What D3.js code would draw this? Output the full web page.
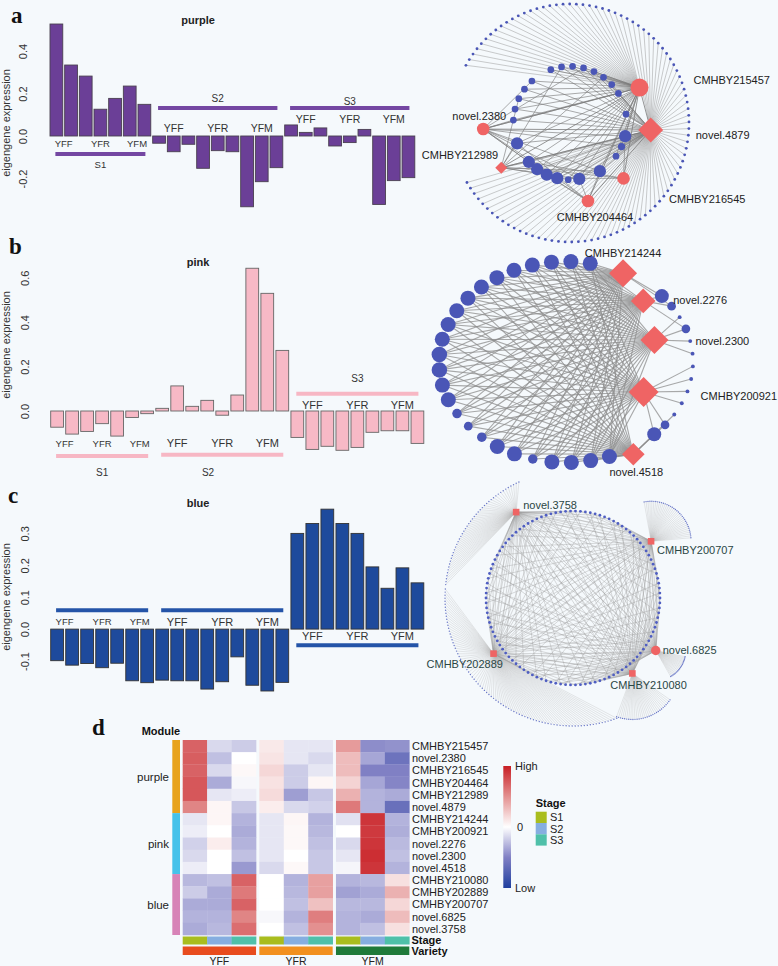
<!DOCTYPE html>
<html><head><meta charset="utf-8">
<script src="https://cdn.jsdelivr.net/npm/d3@7"></script>
<style>
body{margin:0;background:#f5f9fc;}
svg{display:block;font-family:"Liberation Sans",Arial,sans-serif;}
</style></head><body>
<svg id="fig" width="778" height="966"></svg>
<script>
// ================= DATA =================
const stages = ["S1","S2","S3"];
const varieties = ["YFF","YFR","YFM"];
const sampleStage = ["S1","S1","S1","S1","S1","S1","S1",
  "S2","S2","S2","S2","S2","S2","S2","S2","S2",
  "S3","S3","S3","S3","S3","S3","S3","S3","S3"];
const sampleVariety = ["YFF","YFF","YFR","YFR","YFR","YFM","YFM",
  "YFF","YFF","YFF","YFR","YFR","YFR","YFM","YFM","YFM",
  "YFF","YFF","YFF","YFR","YFR","YFR","YFM","YFM","YFM"];
const purpleValues = [0.527,0.334,0.282,0.126,0.177,0.235,0.149,
  -0.034,-0.074,-0.039,-0.152,-0.069,-0.074,-0.333,-0.215,-0.149,
  0.052,0.017,0.038,-0.047,-0.031,0.031,-0.322,-0.210,-0.196];
const pinkValues = [-0.073,-0.104,-0.092,-0.057,-0.113,-0.029,-0.012,
  0.012,0.113,0.021,0.048,-0.019,0.072,0.643,0.530,0.273,
  -0.119,-0.173,-0.159,-0.177,-0.164,-0.096,-0.089,-0.089,-0.146];
const blueValues = [-0.099,-0.113,-0.108,-0.121,-0.107,-0.162,-0.168,
  -0.160,-0.162,-0.162,-0.188,-0.165,-0.087,-0.176,-0.194,-0.167,
  0.300,0.331,0.376,0.331,0.300,0.195,0.128,0.192,0.145];
const purpleTicks = [-0.2,0,0.2,0.4];
const pinkTicks = [0,0.2,0.4,0.6];
const blueTicks = [-0.1,0,0.1,0.2,0.3];

// network a (purple)
const netAHubs = ["CMHBY215457","novel.4879","CMHBY216545","CMHBY204464","CMHBY212989","novel.2380"];
const netAHubShape = ["circle","diamond","circle","circle","diamond","circle"];
const netAInnerDegree = [10,10,10,10,10,3,10,10,3,3.5,10,3,3,3,3,3,3,3,3,3,3,3,3,3,3];
const netAInnerLinks = [[0,1,4,5,3],[0,1,4,5,2],[0,1,4,3,2],[0,1,4,5,3],[0,1,5,3,2],[0,1],[0,1,4,5,3],[0,1,5,4,3],
  [1,0],[1,0,5],[0,1,5,4,2],[0,1],
  [0,1,5],[0,1],[0,1,4],[0,1],[0,1,5],[0,1],[0,1,4],[0,1],[0,1,5],[0,1],[0,1,4],[0,1],[0,1,5]];
const netAOuterLinks = [{hub:0,count:28},{hub:1,count:67}];
const netAHubLinks = [[5,1],[5,0],[4,1],[3,0],[2,0],[0,1],[4,0],[3,1]];

// network b (pink)
const netBHubs = ["CMHBY214244","novel.2276","novel.2300","CMHBY200921","novel.4518"];
const netBRingDegree = [15,15,15,15,15,15,15,15,15,15,15,16,16,15,15,6,5,6,15,15,6,15,15,15,15];
const netBRightDegree = [13,5,1,5,1,1,1,1,1,1,1,5,13];
const netBRightLinks = [[0,1],[1,0],[2],[2,1],[2],[2],[3],[3],[3],[3],[4],[4,3],[4,3]];

// network c (blue)
const netCHubs = ["novel.3758","CMHBY200707","novel.6825","CMHBY210080","CMHBY202889"];
const netCHubShape = ["square","square","circle","square","square"];
const netCRingCount = 110;
const netCLinkPattern = [[0,2],[1,3],[2,4],[3,0],[4,1]];
const netCFanCounts = [45,35,20,30,85];

// heatmap (d)
const genes = ["CMHBY215457","novel.2380","CMHBY216545","CMHBY204464","CMHBY212989","novel.4879",
  "CMHBY214244","CMHBY200921","novel.2276","novel.2300","novel.4518",
  "CMHBY210080","CMHBY202889","CMHBY200707","novel.6825","novel.3758"];
const geneModule = ["purple","purple","purple","purple","purple","purple",
  "pink","pink","pink","pink","pink","blue","blue","blue","blue","blue"];
const modules = ["purple","pink","blue"];
const heatValues = [
  [0.70,-0.15,-0.20, 0.10,-0.10,-0.10, 0.45,-0.45,-0.43],
  [0.72,-0.25,0.00, 0.12,-0.10,-0.15, 0.30,-0.35,-0.60],
  [0.70,-0.15,0.03, 0.18,-0.20,-0.10, 0.30,-0.50,-0.50],
  [0.75,-0.33,-0.03, 0.13,-0.20,0.04, 0.20,-0.35,-0.48],
  [0.75,-0.10,-0.07, 0.16,-0.38,-0.22, 0.35,-0.30,-0.33],
  [0.55,0.04,-0.22, 0.08,-0.15,-0.18, 0.60,-0.30,-0.62],
  [-0.10,0.04,-0.30, -0.10,0.04,-0.30, -0.12,0.90,-0.30],
  [-0.07,0.00,-0.33, -0.10,0.03,-0.28, 0.00,0.88,-0.32],
  [-0.18,0.08,-0.30, -0.10,0.03,-0.25, -0.15,0.90,-0.27],
  [-0.15,0.00,-0.25, -0.10,0.00,-0.22, -0.10,0.93,-0.25],
  [-0.07,0.00,-0.40, -0.15,0.03,-0.22, -0.04,0.90,-0.30],
  [-0.28,-0.25,0.70, 0.00,-0.30,0.43, -0.30,-0.28,0.14],
  [-0.20,-0.33,0.60, 0.00,-0.28,0.43, -0.37,-0.33,0.35],
  [-0.33,-0.33,0.70, 0.00,-0.25,0.28, -0.28,-0.28,0.18],
  [-0.30,-0.30,0.55, -0.03,-0.30,0.58, -0.30,-0.33,0.30],
  [-0.33,-0.28,0.65, 0.00,-0.25,0.50, -0.30,-0.25,0.14]];

// ================= DRAW =================
const svg = d3.select("#fig");
svg.append("rect").attr("width",778).attr("height",966).attr("fill","#f5f9fc");
const serif = "'Liberation Serif','DejaVu Serif',serif";

function letter(t,x,y){
  svg.append("text").attr("x",x).attr("y",y).attr("font-family",serif).attr("font-weight","bold")
    .attr("font-size",23).attr("fill","#111").text(t);
}
letter("a",11,23); letter("b",9,254); letter("c",8,503); letter("d",92,735);

function drawBars(p){
  const g = svg.append("g");
  const n = p.values.length;
  const x = d3.scaleBand().domain(d3.range(n)).range(p.xRange).paddingInner(p.pad).paddingOuter(0);
  const y = d3.scaleLinear().domain(p.yDomain).range(p.yRange);
  const cx = i => x(i)+x.bandwidth()/2;
  g.append("g").selectAll("rect").data(p.values).join("rect")
    .attr("x",(d,i)=>x(i)).attr("width",x.bandwidth())
    .attr("y",d=>Math.min(y(d),y(0))).attr("height",d=>Math.abs(y(d)-y(0)))
    .attr("fill",p.fill).attr("stroke",p.stroke).attr("stroke-width",0.9);
  const ax = g.append("g").attr("transform",`translate(${p.axisX},0)`)
    .call(d3.axisLeft(y).tickValues(p.ticks).tickFormat(d=>d.toFixed(1)).tickSize(0));
  ax.select(".domain").remove();
  ax.attr("font-size",11).attr("font-family","'Liberation Sans',Arial,sans-serif").attr("color","#333");
  ax.selectAll("text").attr("transform","rotate(-90)").attr("x",0).attr("y",0).attr("dy",0).attr("text-anchor","middle");
  g.append("text").attr("transform",`translate(${p.titleX},${p.titleY}) rotate(-90)`)
    .attr("text-anchor","middle").attr("font-size",11).attr("fill","#333").text("eigengene expression");
  g.append("text").attr("x",198).attr("y",p.nameY).attr("text-anchor","middle").attr("font-weight","bold")
    .attr("font-size",11).attr("fill","#222").text(p.name);
  p.stageCfg.forEach(sc=>{
    const idx = d3.range(n).filter(i=>sampleStage[i]===sc.stage);
    g.append("line").attr("x1",cx(idx[0])-1).attr("x2",cx(idx[idx.length-1])+1)
      .attr("y1",sc.lineY).attr("y2",sc.lineY).attr("stroke",p.lineColor).attr("stroke-width",4);
    varieties.forEach(v=>{
      const vi = idx.filter(i=>sampleVariety[i]===v);
      g.append("text").attr("x",d3.mean(vi,cx)).attr("y",sc.labelY).attr("dy","0.36em")
        .attr("text-anchor","middle").attr("font-size",sc.labelSize).attr("fill","#333").text(v);
    });
    if(sc.textY!=null){
      const tx = sc.textX!=null ? sc.textX : (cx(idx[0])+cx(idx[idx.length-1]))/2;
      g.append("text").attr("x",tx).attr("y",sc.textY).attr("dy","0.36em").attr("text-anchor","middle")
        .attr("font-size",sc.textSize).attr("fill","#333").text(sc.stage);
    }
  });
}

drawBars({values:purpleValues, ticks:purpleTicks, name:"purple", nameY:24,
  xRange:[50,414.8], pad:0.13, yDomain:[-0.2,0.4], yRange:[178.5,51], axisX:27, titleX:10, titleY:123,
  fill:"#6b3f97", stroke:"#4a4050", lineColor:"#7447a2",
  stageCfg:[{stage:"S1",labelY:144,lineY:154,textY:165,labelSize:9.5,textSize:9.5},
            {stage:"S2",labelY:128,lineY:108,textY:98,labelSize:10.5,textSize:10},
            {stage:"S3",labelY:119,lineY:108,textY:101,labelSize:10.5,textSize:10}]});
drawBars({values:pinkValues, ticks:pinkTicks, name:"pink", nameY:266,
  xRange:[50.7,423.8], pad:0.15, yDomain:[0,0.6], yRange:[411,277.8], axisX:29, titleX:10, titleY:345,
  fill:"#f7b9c6", stroke:"#666", lineColor:"#f7b7c4",
  stageCfg:[{stage:"S1",labelY:444,lineY:456,textY:472,labelSize:9.5,textSize:10},
            {stage:"S2",labelY:443,lineY:454.7,textY:472,textX:208,labelSize:11,textSize:10},
            {stage:"S3",labelY:405,lineY:393.7,textY:378,labelSize:11,textSize:10}]});
drawBars({values:blueValues, ticks:blueTicks, name:"blue", nameY:507,
  xRange:[50.7,423.8], pad:0.15, yDomain:[-0.1,0.3], yRange:[661,533.4], axisX:29, titleX:10, titleY:597,
  fill:"#1e4a9c", stroke:"#333", lineColor:"#2454a8",
  stageCfg:[{stage:"S1",labelY:621.7,lineY:610.3,textY:null,labelSize:9.5},
            {stage:"S2",labelY:621.7,lineY:610.3,textY:null,labelSize:11},
            {stage:"S3",labelY:635.7,lineY:645.3,textY:null,labelSize:11}]});

const RED = "#ef6464", BLUE = "#4a56b6";
const rad = a => a*Math.PI/180;
const sizeScale = d3.scaleSqrt().domain([0,15]).range([0,7.5]);
function diamond(h){ return `M0,${-h}L${h},0L0,${h}L${-h},0Z`; }

// ---------- network a ----------
(function(){
  const L = {cx:570, cy:123, rIn:56.7, rOut:119,
    slots:[0,2,3,4,5,6,7,9,11,12,13,15,17,18,19,20,21,22,23,24,26,27,28,29,30],
    hubs:{"CMHBY215457":{a:-27,r:78,s:9,lx:54,ly:-3.6,an:"start"},
          "novel.4879":{a:5,r:81,s:12.5,lx:45,ly:9,an:"start"},
          "CMHBY216545":{a:46,r:77,s:6.3,lx:45.5,ly:24.6,an:"start"},
          "CMHBY204464":{a:77,r:80,s:6.3,lx:7,ly:20,an:"middle"},
          "CMHBY212989":{a:147,r:82,s:6,lx:-3,ly:-9,an:"end"},
          "novel.2380":{a:176,r:87,s:6.3,lx:-4,ly:-9,an:"middle"}}};
  const slotAngle = d3.scaleLinear().domain([0,1]).range([159,147.8]);
  const g = svg.append("g");
  const hubPos = netAHubs.map(h=>{const c=L.hubs[h]; const [px,py]=d3.pointRadial(rad(c.a+90),c.r); return [L.cx+px,L.cy+py];});
  const inner = netAInnerDegree.map((d,i)=>{const a=slotAngle(L.slots[i]); const [px,py]=d3.pointRadial(rad(a+90),L.rIn); return {x:L.cx+px,y:L.cy+py,r:sizeScale(d)};});
  const outerTotal = d3.sum(netAOuterLinks,d=>d.count);
  const outAngle = d3.scaleLinear().domain([0,outerTotal-1]).range([-151,150]);
  const outer = []; let k=0;
  netAOuterLinks.forEach(seg=>{for(let j=0;j<seg.count;j++,k++){const [px,py]=d3.pointRadial(rad(outAngle(k)+90),L.rOut); outer.push({x:L.cx+px,y:L.cy+py,hub:seg.hub});}});
  const eg = g.append("g");
  outer.forEach(o=>eg.append("line").attr("x1",o.x).attr("y1",o.y).attr("x2",hubPos[o.hub][0]).attr("y2",hubPos[o.hub][1])
    .attr("stroke","#9a9a9a").attr("stroke-width",0.6).attr("stroke-opacity",0.85));
  inner.forEach((n,i)=>netAInnerLinks[i].forEach(h=>eg.append("line").attr("x1",n.x).attr("y1",n.y)
    .attr("x2",hubPos[h][0]).attr("y2",hubPos[h][1]).attr("stroke","#7a7a7a").attr("stroke-width",0.8).attr("stroke-opacity",0.8)));
  netAHubLinks.forEach(([a,b])=>eg.append("line").attr("x1",hubPos[a][0]).attr("y1",hubPos[a][1])
    .attr("x2",hubPos[b][0]).attr("y2",hubPos[b][1]).attr("stroke","#7a7a7a").attr("stroke-width",0.8));
  g.selectAll("circle.o").data(outer).join("circle").attr("cx",d=>d.x).attr("cy",d=>d.y).attr("r",1.4).attr("fill",BLUE);
  g.selectAll("circle.i").data(inner).join("circle").attr("cx",d=>d.x).attr("cy",d=>d.y).attr("r",d=>d.r).attr("fill",BLUE);
  netAHubs.forEach((h,i)=>{
    const c=L.hubs[h], [hx,hy]=hubPos[i];
    if(netAHubShape[i]==="circle") g.append("circle").attr("cx",hx).attr("cy",hy).attr("r",c.s).attr("fill",RED);
    else g.append("path").attr("d",diamond(c.s)).attr("transform",`translate(${hx},${hy})`).attr("fill",RED);
    g.append("text").attr("x",hx+c.lx).attr("y",hy+c.ly).attr("text-anchor",c.an).attr("font-size",11).attr("fill","#222").text(h);
  });
})();

// ---------- network b ----------
(function(){
  const L = {cx:566, cy:362, rx:127, ry:100.5,
    hubs:{"CMHBY214244":{a:-63,r:0.99,s:14,lx:0,ly:-16,an:"middle"},
          "novel.2276":{a:-45,r:0.86,s:12.3,lx:30,ly:3,an:"start"},
          "novel.2300":{a:-17.5,r:0.73,s:14,lx:41,ly:5,an:"start"},
          "CMHBY200921":{a:26,r:0.68,s:15,lx:57,ly:8,an:"start"},
          "novel.4518":{a:60,r:1.06,s:11.3,lx:3,ly:22,an:"middle"}}};
  const pos = (a,f)=>[L.cx+L.rx*f*Math.cos(rad(a)), L.cy+L.ry*f*Math.sin(rad(a))];
  const g = svg.append("g");
  const hubPos = netBHubs.map(h=>pos(L.hubs[h].a,L.hubs[h].r));
  const ringA = d3.scaleLinear().domain([0,netBRingDegree.length-1]).range([281,70]);
  const rightA = d3.scaleLinear().domain([0,netBRightDegree.length-1]).range([-41,46]);
  const ring = netBRingDegree.map((d,i)=>{const [x,y]=pos(ringA(i),1); return {x,y,r:sizeScale(d)};});
  const right = netBRightDegree.map((d,i)=>{const [x,y]=pos(rightA(i),1); return {x,y,r:sizeScale(d)};});
  const eg = g.append("g").attr("stroke","#8c8c8c").attr("stroke-width",1.1).attr("stroke-opacity",0.75);
  ring.forEach(n=>hubPos.forEach(hp=>eg.append("line").attr("x1",n.x).attr("y1",n.y).attr("x2",hp[0]).attr("y2",hp[1])));
  right.forEach((n,i)=>netBRightLinks[i].forEach(h=>eg.append("line").attr("x1",n.x).attr("y1",n.y).attr("x2",hubPos[h][0]).attr("y2",hubPos[h][1])));
  g.selectAll("circle.r").data(ring.concat(right)).join("circle").attr("cx",d=>d.x).attr("cy",d=>d.y).attr("r",d=>d.r).attr("fill",BLUE);
  netBHubs.forEach((h,i)=>{
    const c=L.hubs[h],[hx,hy]=hubPos[i];
    g.append("path").attr("d",diamond(c.s)).attr("transform",`translate(${hx},${hy})`).attr("fill",RED);
    g.append("text").attr("x",hx+c.lx).attr("y",hy+c.ly).attr("text-anchor",c.an).attr("font-size",11).attr("fill","#222").text(h);
  });
})();

// ---------- network c ----------
(function(){
  const L = {cx:573, cy:598, r:87,
    hubs:{"novel.3758":{a:-123.5,r:103,lx:7,ly:-3},
          "CMHBY200707":{a:-36,r:96.5,lx:6,ly:13},
          "novel.6825":{a:32.4,r:98,lx:7,ly:3},
          "CMHBY210080":{a:51.8,r:96,lx:-22,ly:16},
          "CMHBY202889":{a:145,r:97,lx:-67,ly:14}},
    fans:[{center:"main",r:128,from:245,to:186},
          {center:"hub",r:40,from:-100,to:-5},
          {center:"hub",r:30,from:12,to:60},
          {center:"hub",r:46,from:35,to:110},
          {center:"main",r:128,from:184,to:70}]};
  const pol = (cx,cy,a,r)=>[cx+r*Math.cos(rad(a)), cy+r*Math.sin(rad(a))];
  const g = svg.append("g");
  const hubPos = netCHubs.map(h=>pol(L.cx,L.cy,L.hubs[h].a,L.hubs[h].r));
  const ringAngle = d3.scaleLinear().domain([0,netCRingCount]).range([0,360]);
  const ring = d3.range(netCRingCount).map(i=>{const [x,y]=pol(L.cx,L.cy,ringAngle(i),L.r); return {x,y,i};});
  const fg = g.append("g");
  netCFanCounts.forEach((cnt,h)=>{
    const f=L.fans[h]; const [ox,oy] = f.center==="main"?[L.cx,L.cy]:hubPos[h];
    const fa = d3.scaleLinear().domain([0,cnt-1]).range([f.from,f.to]);
    d3.range(cnt).forEach(j=>{
      const [x,y]=pol(ox,oy,fa(j),f.r);
      fg.append("line").attr("x1",hubPos[h][0]).attr("y1",hubPos[h][1]).attr("x2",x).attr("y2",y)
        .attr("stroke","#b4b4b4").attr("stroke-width",0.35).attr("stroke-opacity",0.9);
      fg.append("circle").attr("cx",x).attr("cy",y).attr("r",0.7).attr("fill","#6a78c8");
    });
  });
  const eg = g.append("g").attr("stroke","#9a9a9a").attr("stroke-width",0.45).attr("stroke-opacity",0.8);
  ring.forEach(n=>netCLinkPattern[n.i%netCLinkPattern.length].forEach(h=>
    eg.append("line").attr("x1",n.x).attr("y1",n.y).attr("x2",hubPos[h][0]).attr("y2",hubPos[h][1])));
  g.selectAll("circle.r").data(ring).join("circle").attr("cx",d=>d.x).attr("cy",d=>d.y).attr("r",1.4).attr("fill","#4f5ec2");
  netCHubs.forEach((h,i)=>{
    const c=L.hubs[h],[hx,hy]=hubPos[i];
    if(netCHubShape[i]==="circle") g.append("circle").attr("cx",hx).attr("cy",hy).attr("r",4.7).attr("fill",RED);
    else g.append("rect").attr("x",hx-3.3).attr("y",hy-3.3).attr("width",6.6).attr("height",6.6).attr("fill",RED);
    g.append("text").attr("x",hx+c.lx).attr("y",hy+c.ly).attr("font-size",11).attr("fill","#2a4644").text(h);
  });
})();

// ---------- heatmap d ----------
(function(){
  const g = svg.append("g");
  const color = d3.scaleLinear().domain([-1,-0.5,0,0.5,1]).range(["#1f3f9f","#8080c4","#ffffff","#e39090","#c81e24"]);
  const xo = d3.scaleBand().domain(varieties).range([182.7,409.3]).paddingInner(0.043);
  const xi = d3.scaleBand().domain(stages).range([0,xo.bandwidth()]);
  const y = d3.scaleBand().domain(genes).range([740,935]);
  const cells = [];
  genes.forEach((gn,r)=>varieties.forEach((v,vi)=>stages.forEach((s,si)=>cells.push({gn,v,s,val:heatValues[r][vi*3+si]}))));
  g.selectAll("rect.c").data(cells).join("rect").attr("x",d=>xo(d.v)+xi(d.s)).attr("y",d=>y(d.gn))
    .attr("width",xi.bandwidth()+0.3).attr("height",y.bandwidth()+0.3).attr("fill",d=>color(d.val));
  g.selectAll("text.g").data(genes).join("text").attr("x",412).attr("y",d=>y(d)+y.bandwidth()/2).attr("dy","0.36em")
    .attr("font-size",11).attr("fill","#222").text(d=>d);
  const modColor = {purple:"#e8a31d",pink:"#46c2ea",blue:"#d783b7"};
  modules.forEach(m=>{
    const rows = genes.filter((gn,i)=>geneModule[i]===m);
    const y0 = y(rows[0]), y1 = y(rows[rows.length-1])+y.bandwidth();
    g.append("rect").attr("x",172.3).attr("width",7.7).attr("y",y0).attr("height",y1-y0).attr("fill",modColor[m]);
    g.append("text").attr("x",169).attr("y",(y0+y1)/2).attr("dy","0.36em").attr("text-anchor","end")
      .attr("font-size",11.5).attr("fill","#222").text(m);
  });
  g.append("text").attr("x",141.7).attr("y",735).attr("font-weight","bold").attr("font-size",11).attr("fill","#111").text("Module");
  const stageColor = {S1:"#a9bd1e",S2:"#86aee0",S3:"#4fc0a9"};
  const varColor = {YFF:"#e84c1e",YFR:"#f2901f",YFM:"#1f7a3a"};
  varieties.forEach(v=>{
    stages.forEach(s=>g.append("rect").attr("x",xo(v)+xi(s)).attr("y",936.5).attr("width",xi.bandwidth()+0.3).attr("height",8).attr("fill",stageColor[s]));
    g.append("rect").attr("x",xo(v)).attr("y",946.5).attr("width",xo.bandwidth()).attr("height",8.5).attr("fill",varColor[v]);
    g.append("text").attr("x",xo(v)+xo.bandwidth()/2).attr("y",965).attr("text-anchor","middle").attr("font-size",10.5).attr("fill","#222").text(v);
  });
  g.append("text").attr("x",411.5).attr("y",940.5).attr("dy","0.36em").attr("font-weight","bold").attr("font-size",11).attr("fill","#111").text("Stage");
  g.append("text").attr("x",411.5).attr("y",951).attr("dy","0.36em").attr("font-weight","bold").attr("font-size",11).attr("fill","#111").text("Variety");
  const defs = svg.append("defs");
  const grad = defs.append("linearGradient").attr("id","hg").attr("x1",0).attr("x2",0).attr("y1",1).attr("y2",0);
  d3.range(0,1.0001,0.05).forEach(t=>grad.append("stop").attr("offset",t).attr("stop-color",color(-1+2*t)));
  const ly = d3.scaleLinear().domain([-1,1]).range([888,766]);
  g.append("rect").attr("x",503.3).attr("y",ly(1)).attr("width",7.7).attr("height",ly(-1)-ly(1)).attr("fill","url(#hg)");
  [["High",1,515],["0",0,517],["Low",-1,515]].forEach(([t,v,x])=>g.append("text").attr("x",x).attr("y",ly(v)).attr("dy","0.36em")
    .attr("font-size",11).attr("fill","#222").text(t));
  g.append("text").attr("x",535.7).attr("y",807).attr("font-weight","bold").attr("font-size",11).attr("fill","#111").text("Stage");
  stages.forEach((s,i)=>{
    g.append("rect").attr("x",535.7).attr("y",811.7+i*11.3).attr("width",11).attr("height",11.3).attr("fill",stageColor[s]);
    g.append("text").attr("x",550).attr("y",811.7+i*11.3+5.65).attr("dy","0.36em").attr("font-size",11).attr("fill","#222").text(s);
  });
})();
</script>
</body></html>
